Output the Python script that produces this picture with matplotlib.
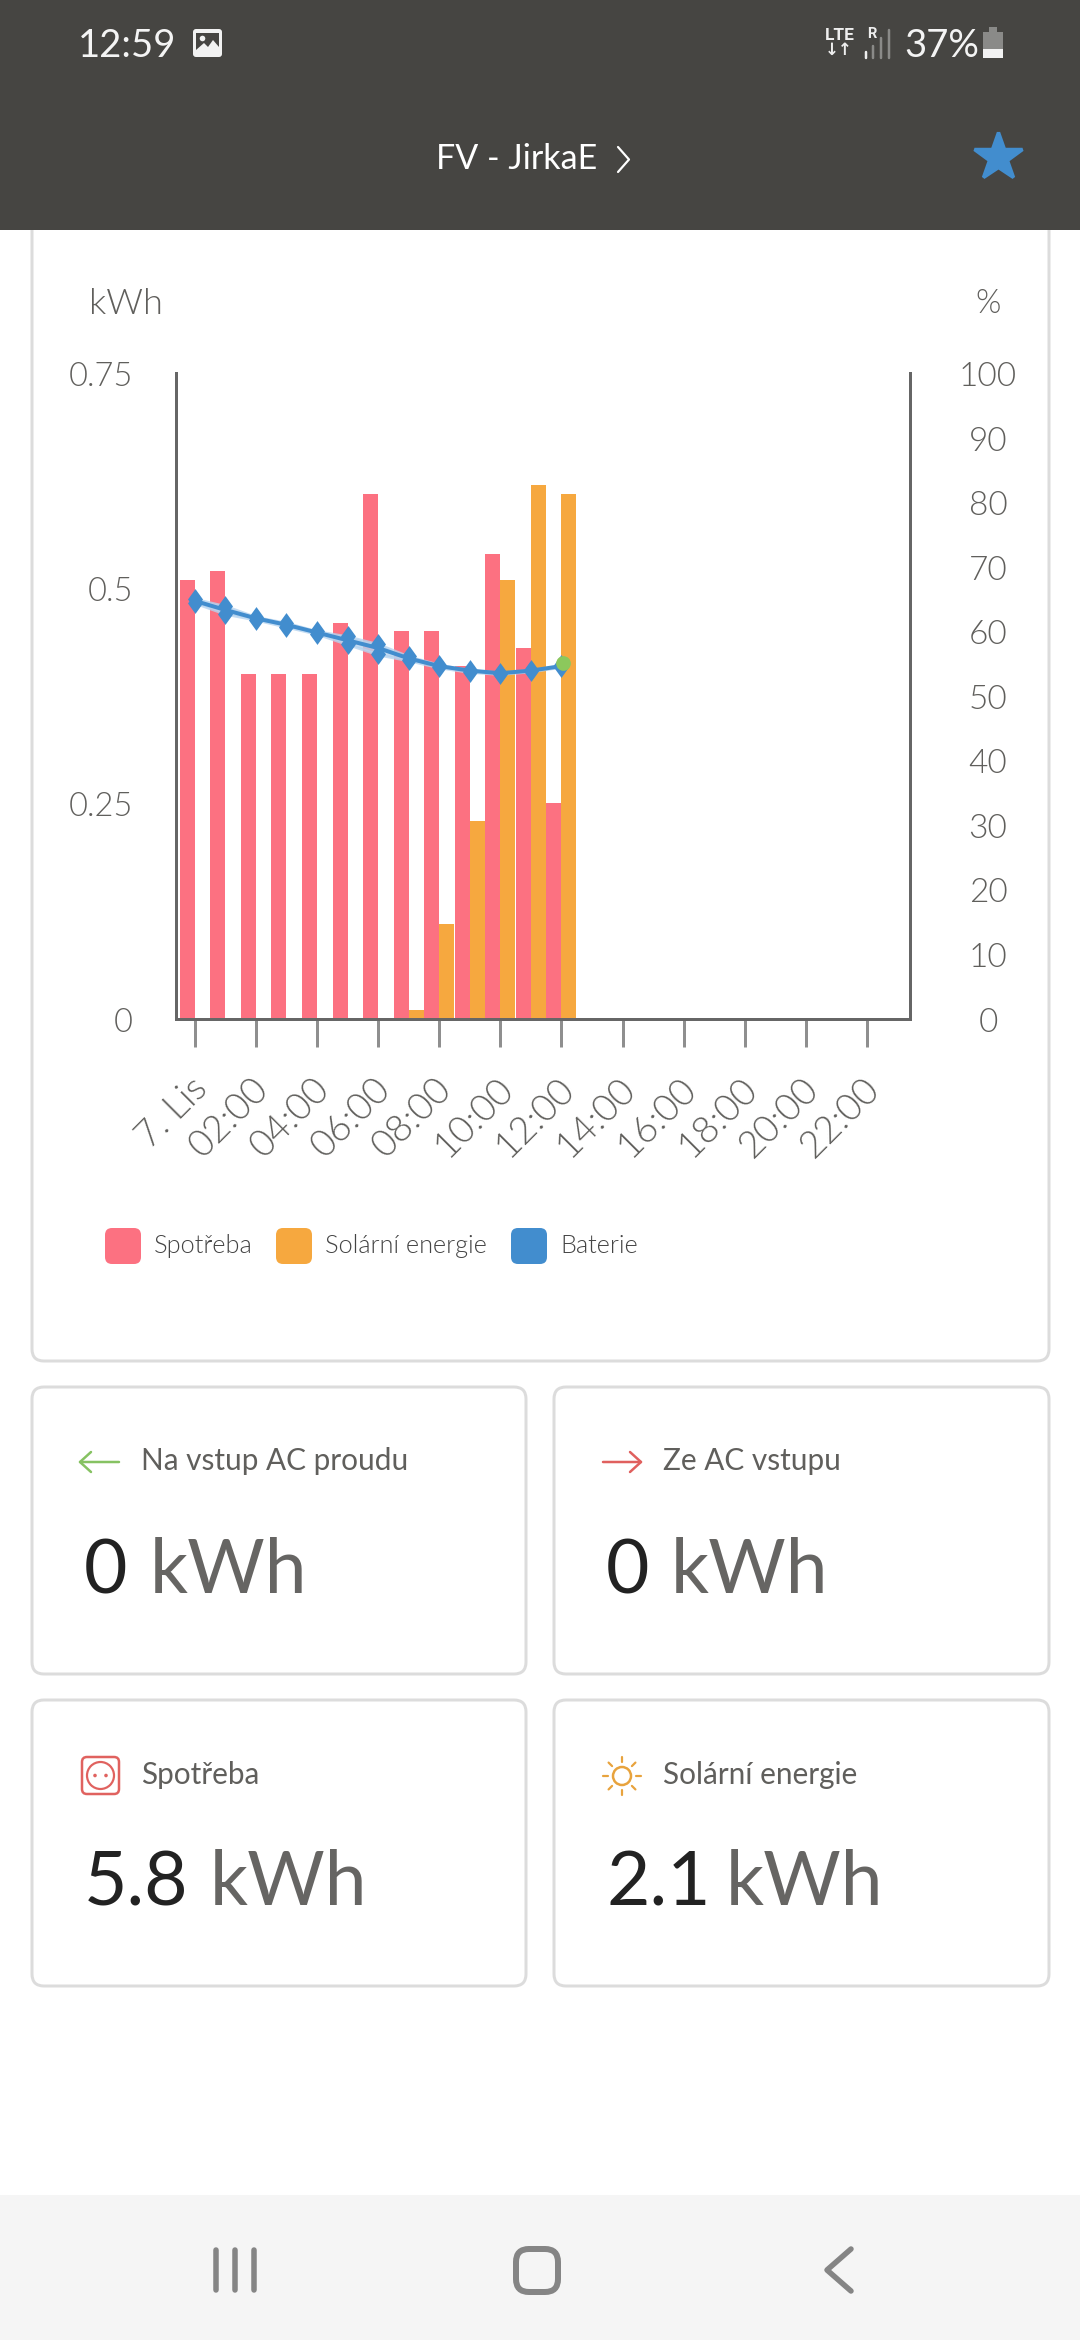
import matplotlib
matplotlib.use("Agg")
import matplotlib.pyplot as plt
from matplotlib.patches import FancyBboxPatch, Rectangle, Circle
from matplotlib.transforms import ScaledTranslation
import numpy as np

plt.rcParams['font.family'] = ['Lato', 'DejaVu Sans']

# ---- data ----
hours = list(range(13))
spotreba = [0.51, 0.52, 0.40, 0.40, 0.40, 0.46, 0.61, 0.45, 0.45, 0.41, 0.54, 0.43, 0.25]
solar = [0, 0, 0, 0, 0, 0, 0, 0.01, 0.11, 0.23, 0.51, 0.62, 0.61]
baterie = [64.7, 63.3, 62.0, 61.0, 59.8, 58.6, 57.4, 55.8, 54.6, 53.9, 53.5, 53.9, 54.6]
baterie_hi = [65.0, 63.9, 62.2, 61.3, 60.0, 59.2, 58.0, 56.1, 54.8, 54.0, 53.6, 54.0, 54.7]
baterie_lo = [64.4, 62.7, 61.8, 60.7, 59.6, 58.0, 56.4, 55.5, 54.4, 53.7, 53.4, 53.8, 54.5]
baterie_now = 55.1
tick_hours = list(range(0, 24, 2))
tick_labels = ['7. Lis', '02:00', '04:00', '06:00', '08:00', '10:00', '12:00',
               '14:00', '16:00', '18:00', '20:00', '22:00']
left_ticks = [0, 0.25, 0.5, 0.75]
left_labels = ['0', '0.25', '0.5', '0.75']
right_ticks = list(range(0, 101, 10))
legend_items = ['Spotřeba', 'Solární energie', 'Baterie']

PINK, ORANGE, BLUE, GREEN = '#FC7181', '#F6A83F', '#428DCE', '#8CC85C'
AXC, TXT, DARK = '#666666', '#605f5c', '#222222'
HEAD = '#464542'
W, H = 1080, 2340
PX = 72 / 100  # points per pixel
DIAMOND = [(-0.72, 0), (0, 1), (0.72, 0), (0, -1), (-0.72, 0)]

fig = plt.figure(figsize=(W / 100, H / 100), dpi=100, facecolor='white')
ui = fig.add_axes([0, 0, 1, 1])
ui.set_xlim(0, W)
ui.set_ylim(H, 0)
ui.axis('off')


def rbox(x0, y0, x1, y1, r, fc='none', ec='none', lw=0, z=1):
    ui.add_patch(FancyBboxPatch((x0 + r, y0 + r), x1 - x0 - 2 * r, y1 - y0 - 2 * r,
                                boxstyle=f'round,pad={r},rounding_size={r}',
                                fc=fc, ec=ec, lw=lw * PX, zorder=z))


def line(xs, ys, c, lw, z=3, cap='round'):
    ui.plot(xs, ys, color=c, lw=lw * PX, solid_capstyle=cap, solid_joinstyle='round', zorder=z)


def text(x, y, s, size, c=TXT, ha='left', va='center', weight=300, **kw):
    ui.text(x, y, s, fontsize=size, color=c, ha=ha, va=va, fontweight=weight, **kw)


# header & status bar
ui.add_patch(Rectangle((0, 0), W, 230, fc=HEAD, ec='none', zorder=5))
text(78, 46, '12:59', 27.5, '#f4f4f4', weight=400, zorder=6)
rbox(193, 29, 222, 57, 3, fc='#f2f2f2', z=6)
ui.add_patch(Rectangle((196, 33), 23, 20, fc=HEAD, ec='none', zorder=7))
ui.add_patch(Circle((202.5, 38.5), 2.8, fc='#f2f2f2', ec='none', zorder=8))
ui.fill([196, 196, 204, 208, 213, 219, 219], [53, 50, 43, 47, 40, 47, 53], color='#f2f2f2', lw=0, zorder=8)
text(825, 35, 'LTE', 12.5, '#eeeeee', weight=700, zorder=6, family=['Roboto', 'DejaVu Sans'])
text(839, 50, '↓↑', 12, '#eeeeee', ha='center', weight=700, zorder=6, family=['DejaVu Sans'])
text(867, 34, 'R', 10.5, '#eeeeee', weight=700, zorder=6, family=['Roboto', 'DejaVu Sans'])
for bx, top, col in zip([866, 873, 881, 889], [52, 46, 38, 30], ['#eeeeee', '#8a8a88', '#8a8a88', '#8a8a88']):
    line([bx, bx], [top, 58], col, 2.5, z=6)
text(904, 46, '37%', 27.5, '#f4f4f4', weight=400, zorder=6)
ui.add_patch(Rectangle((983, 32), 20, 26, fc='#8a8a88', ec='none', zorder=6))
ui.add_patch(Rectangle((989, 27), 8, 5, fc='#8a8a88', ec='none', zorder=6))
ui.add_patch(Rectangle((983, 49), 20, 9, fc='#f2f2f2', ec='none', zorder=7))
text(436, 159, 'FV - JirkaE', 24.5, '#ffffff', weight=400, zorder=6)
line([618, 629, 618], [147, 159.5, 172], '#ffffff', 2.2, z=6)
ui.plot([998], [157], marker='*', ms=36, mfc=BLUE, mec=BLUE, mew=2.5, zorder=6, ls='none')

# chart card
rbox(32, 190, 1049, 1361, 12, fc='white', ec='#dcdcdc', lw=3, z=1)

# chart axes
AL, AR, AT, AB = 175.5, 910, 373, 1018.6
ax = fig.add_axes([AL / W, 1 - AB / H, (AR - AL) / W, (AB - AT) / H], facecolor='none')
hour_px = 30.55
h0_px = 194.8
ax.set_xlim(-(h0_px - AL) / hour_px, (AR - h0_px) / hour_px)
ax.set_ylim(0, 0.75)
bw = 15 / hour_px
ax.bar(hours, spotreba, width=-bw, align='edge', color=PINK, zorder=2)
ax.bar(hours, solar, width=bw, align='edge', color=ORANGE, zorder=2)
ax.set_xticks(tick_hours)
ax.set_xticklabels(tick_labels, rotation=45, ha='right', va='top', rotation_mode='anchor',
                   fontsize=27, color=TXT, fontweight=300)
ax.tick_params(axis='x', length=28 * PX, width=3 * PX, color='#8f8f8f', pad=18)
for lab in ax.get_xticklabels():
    lab.set_transform(lab.get_transform() + ScaledTranslation(-4.5 / 100, 0, fig.dpi_scale_trans))
ax.set_yticks(left_ticks)
ax.set_yticklabels(left_labels, fontsize=23.5, color=TXT, fontweight=300)
ax.tick_params(axis='y', length=0, pad=42.5 * PX)
for lab in ax.get_yticklabels():
    lab.set_transform(lab.get_transform() + ScaledTranslation(0, -1 / 100, fig.dpi_scale_trans))
ax.spines['top'].set_visible(False)
for s in ['left', 'right', 'bottom']:
    ax.spines[s].set_color(AXC)
    ax.spines[s].set_linewidth(3 * PX)

ax2 = ax.twinx()
ax2.set_ylim(0, 100)
ax2.fill_between(hours, baterie_lo, baterie_hi, color='#b5d4f0', lw=3 * PX, alpha=0.8, zorder=3)
ax2.plot(hours, baterie, color=BLUE, lw=4 * PX, zorder=4)
ax2.plot(hours, baterie_hi, ls='none', marker=DIAMOND, ms=15, mfc=BLUE, mec=BLUE, mew=0, zorder=5)
ax2.plot(hours, baterie_lo, ls='none', marker=DIAMOND, ms=15, mfc=BLUE, mec=BLUE, mew=0, zorder=5)
ax2.plot([hours[-1] + 0.05], [baterie_now], ls='none', marker='o', ms=10.6, mfc=GREEN, mec=GREEN, mew=0, zorder=6)
ax2.set_yticks(right_ticks)
ax2.set_yticklabels([str(v) for v in right_ticks], ha='center', fontsize=24, color=TXT, fontweight=300)
ax2.tick_params(axis='y', length=0, pad=(988 - AR) * PX)
for lab in ax2.get_yticklabels():
    lab.set_transform(lab.get_transform() + ScaledTranslation(0, -1 / 100, fig.dpi_scale_trans))
for s in ax2.spines.values():
    s.set_visible(False)

text(89, 304, 'kWh', 26, TXT)
text(988, 304, '%', 23.5, TXT, ha='center')

# legend
for sx, tx, c, lab in zip([105, 276, 511], [153.5, 325, 560], [PINK, ORANGE, BLUE], legend_items):
    rbox(sx, 1228, sx + 36, 1264, 7, fc=c, z=2)
    text(tx, 1246, lab, 18.2, '#444444', weight=300)

# cards
cards = [(32, 1387, 526, 1674), (554, 1387, 1049, 1674), (32, 1700, 526, 1986), (554, 1700, 1049, 1986)]
for c in cards:
    rbox(*c, 12, fc='white', ec='#dcdcdc', lw=3, z=1)
heads = [(141, 1461, 'Na vstup AC proudu'), (663, 1461, 'Ze AC vstupu'),
         (141, 1775, 'Spotřeba'), (663, 1775, 'Solární energie')]
for x, y, s in heads:
    text(x, y, s, 21.4, TXT, weight=400)
bigs = [(83.5, 150, 1593, '0'), (606, 671, 1593, '0'), (83.5, 210, 1905, '5.8'), (606, 726, 1905, '2.1')]
for x0, x1, y, v in bigs:
    text(x0, y, v, 54, DARK, va='baseline', weight=400)
    text(x1, y, 'kWh', 54, '#666563', va='baseline', weight=400)

# card icons
line([80, 119], [1462, 1462], '#86C262', 2.5)
line([91, 80, 91], [1452, 1462, 1472], '#86C262', 2.5)
line([603, 641], [1462, 1462], '#E0605E', 2.5)
line([630, 641, 630], [1452, 1462, 1472], '#E0605E', 2.5)
rbox(82, 1757, 119, 1794, 5, ec='#E0625F', lw=2.5, z=3)
ui.add_patch(Circle((100.5, 1775.5), 13.5, fc='none', ec='#E0625F', lw=2.2 * PX, zorder=3))
for dx in (95, 106):
    ui.add_patch(Circle((dx, 1775.5), 1.8, fc='#E0625F', ec='none', zorder=3))
ui.add_patch(Circle((622, 1776), 9, fc='none', ec='#E8A33D', lw=2.5 * PX, zorder=3))
for a in np.arange(0, 360, 45):
    ca, sa = np.cos(np.radians(a)), np.sin(np.radians(a))
    line([622 + 14 * ca, 622 + 19 * ca], [1776 + 14 * sa, 1776 + 19 * sa], '#E8A33D', 2.2)

# navigation bar
ui.add_patch(Rectangle((0, 2195), W, H - 2195, fc='#f5f5f5', ec='none', zorder=1))
NAV = '#858585'
for bx in (216, 235, 254):
    line([bx, bx], [2250, 2290], NAV, 5.5, cap='round')
rbox(516, 2249, 558, 2292, 13, ec=NAV, lw=6, z=3)
line([851, 827, 851], [2249, 2270, 2291], NAV, 5.5)

fig.savefig('out.png', dpi=100, facecolor='white')
